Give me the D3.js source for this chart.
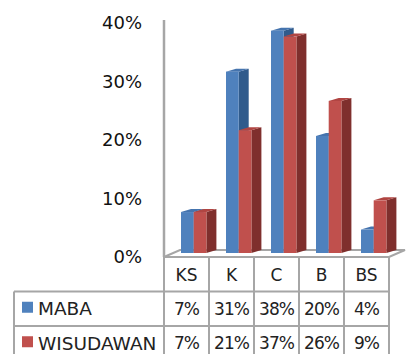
<!DOCTYPE html>
<html>
<head>
<meta charset="utf-8">
<script src="https://cdn.jsdelivr.net/npm/d3@7"></script>
<style>
  body { margin: 0; background: #fff; }
  svg { display: block; font-family: "DejaVu Sans", sans-serif; }
</style>
</head>
<body>
<div id="chart"></div>
<script>
// data
const categories = ["KS", "K", "C", "B", "BS"];
const seriesNames = ["MABA", "WISUDAWAN"];
const maba = [0.07, 0.31, 0.38, 0.20, 0.04];
const wisudawan = [0.07, 0.21, 0.37, 0.26, 0.09];
const yTicks = [0, 0.1, 0.2, 0.3, 0.4];

const W = 406, H = 354;
const colors = [
  { front: "#4F81BD", top: "#4574AE", side: "#305B8C" },
  { front: "#C0504D", top: "#B04542", side: "#7F2F2D" }
];
const gridColor = "#A6A6A6";

const svg = d3.select("#chart").append("svg")
  .attr("width", W)
  .attr("height", H);

// scales
const x = d3.scaleBand().domain(categories).range([164, 389]);
const y = d3.scaleLinear().domain([0, 0.4]).range([257, 23]);
const front = { dy: -4 };          // front row of bars sits a bit above the axis
const depth = { dx: 10, dy: -3 };  // bar depth offset
const barW = 12.7, barOff = 17;

// floor
const floorDepth = { dx: 16, dy: -7 };
const fx0 = x.range()[0], fx1 = x.range()[1], fy = y(0);
svg.append("path")
  .attr("d", `M${fx0},${fy} L${fx1},${fy} L${fx1 + floorDepth.dx},${fy + floorDepth.dy} L${fx0 + floorDepth.dx},${fy + floorDepth.dy} Z`)
  .attr("fill", "#fff")
  .attr("stroke", gridColor)
  .attr("stroke-width", 2);

// vertical axis line
svg.append("line")
  .attr("x1", 164).attr("x2", 164)
  .attr("y1", y(0.4) - 3).attr("y2", y(0))
  .attr("stroke", gridColor)
  .attr("stroke-width", 2.5);

// y tick labels
svg.append("g").selectAll("text")
  .data(yTicks)
  .join("text")
  .attr("x", 142)
  .attr("y", d => y(d))
  .attr("dy", "0.36em")
  .attr("text-anchor", "end")
  .attr("font-size", 18)
  .attr("fill", "#111")
  .text(d => d3.format(".0%")(d));

// bars
const series = [maba, wisudawan];
const bars = svg.append("g");
categories.forEach((c, i) => {
  series.forEach((vals, s) => {
    const x0 = x(c) + barOff + s * barW;
    const x1 = x0 + barW;
    const yb = y(0) + front.dy;
    const yt = y(vals[i]) + front.dy;
    const col = colors[s];
    // side face
    bars.append("path")
      .attr("d", `M${x1},${yt} L${x1 + depth.dx},${yt + depth.dy} L${x1 + depth.dx},${yb + depth.dy} L${x1},${yb} Z`)
      .attr("fill", col.side);
    // top face
    bars.append("path")
      .attr("d", `M${x0},${yt} L${x1},${yt} L${x1 + depth.dx},${yt + depth.dy} L${x0 + depth.dx},${yt + depth.dy} Z`)
      .attr("fill", col.top);
    // front face
    bars.append("rect")
      .attr("x", x0).attr("y", yt)
      .attr("width", barW).attr("height", yb - yt)
      .attr("fill", col.front);
  });
});

// data table
const rowTop = y(0), rowH = 34.5;
const tableLeft = 14;
const table = svg.append("g")
  .attr("stroke", gridColor)
  .attr("stroke-width", 2)
  .attr("fill", "none");

// horizontal lines
[1, 2].forEach(r => {
  table.append("line")
    .attr("x1", tableLeft).attr("x2", fx1)
    .attr("y1", rowTop + r * rowH).attr("y2", rowTop + r * rowH);
});
// vertical lines
categories.concat(["end"]).forEach((c, i) => {
  const xx = fx0 + i * x.bandwidth();
  table.append("line")
    .attr("x1", xx).attr("x2", xx)
    .attr("y1", rowTop).attr("y2", H);
});
table.append("line")
  .attr("x1", tableLeft).attr("x2", tableLeft)
  .attr("y1", rowTop + rowH).attr("y2", H);

// category labels
svg.append("g").selectAll("text")
  .data(categories)
  .join("text")
  .attr("x", d => x(d) + x.bandwidth() / 2)
  .attr("y", rowTop + rowH / 2 + 1)
  .attr("dy", "0.36em")
  .attr("text-anchor", "middle")
  .attr("font-size", 17)
  .attr("fill", "#222")
  .text(d => d);

// series rows
series.forEach((vals, s) => {
  const cy = rowTop + rowH * (s + 1) + rowH / 2;
  svg.append("rect")
    .attr("x", 22).attr("y", cy - 7)
    .attr("width", 11).attr("height", 11)
    .attr("fill", colors[s].front);
  svg.append("text")
    .attr("x", 38).attr("y", cy)
    .attr("dy", "0.36em")
    .attr("font-size", 18.5)
    .attr("fill", "#222")
    .text(seriesNames[s]);
  svg.append("g").selectAll("text")
    .data(vals)
    .join("text")
    .attr("x", (d, i) => x(categories[i]) + x.bandwidth() / 2)
    .attr("y", cy)
    .attr("dy", "0.36em")
    .attr("text-anchor", "middle")
    .attr("font-size", 17)
    .attr("letter-spacing", -1)
    .attr("fill", "#222")
    .text(d => d3.format(".0%")(d));
});
</script>
</body>
</html>
